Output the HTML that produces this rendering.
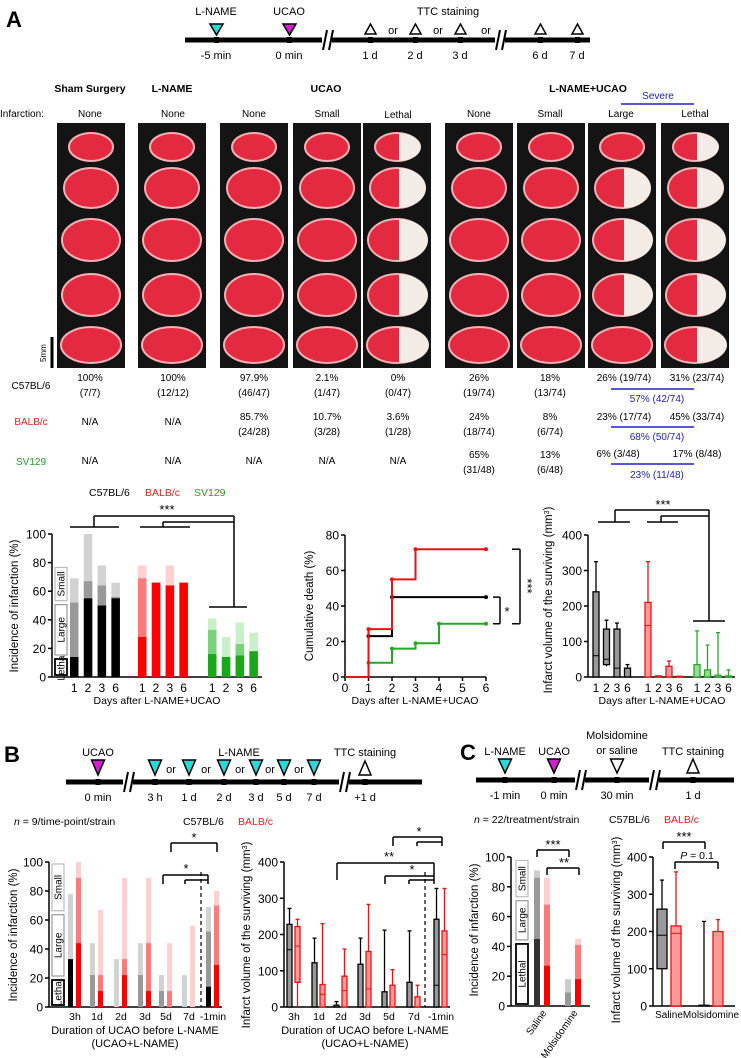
<!DOCTYPE html>
<html><head><meta charset="utf-8">
<style>
html,body{margin:0;padding:0;background:#fff;}
svg{display:block;font-family:"Liberation Sans Narrow","Liberation Sans",sans-serif;}
text{fill:#000;}
</style></head>
<body>
<svg id="fig" xmlns="http://www.w3.org/2000/svg" width="741" height="1058" viewBox="0 0 741 1058">
<!-- Panel A header & timeline -->
<text x="6" y="27" font-size="22" font-weight="bold" font-family="Liberation Sans">A</text>
<g font-size="11" text-anchor="middle">
  <line x1="185" y1="40" x2="590" y2="40" stroke="#000" stroke-width="5"/>
  <rect x="322" y="30" width="10" height="20" fill="#fff"/>
  <line x1="323" y1="50" x2="327" y2="30" stroke="#000" stroke-width="2"/>
  <line x1="329" y1="50" x2="333" y2="30" stroke="#000" stroke-width="2"/>
  <rect x="495" y="30" width="10" height="20" fill="#fff"/>
  <line x1="496" y1="50" x2="500" y2="30" stroke="#000" stroke-width="2"/>
  <line x1="502" y1="50" x2="506" y2="30" stroke="#000" stroke-width="2"/>
  <g fill="#000"><rect x="214" y="37" width="5" height="6"/><rect x="287" y="37" width="5" height="6"/><rect x="368" y="37" width="5" height="6"/><rect x="413" y="37" width="5" height="6"/><rect x="458" y="37" width="5" height="6"/><rect x="538" y="37" width="5" height="6"/><rect x="575" y="37" width="5" height="6"/></g>
  <polygon points="210,24 223,24 216.5,35" fill="#29d8d8" stroke="#000" stroke-width="1.5"/>
  <polygon points="283,24 296,24 289.5,35" fill="#d020d0" stroke="#000" stroke-width="1.5"/>
  <polygon points="370.5,24 365,34 376,34" fill="#fff" stroke="#000" stroke-width="1.5"/>
  <polygon points="415.5,24 410,34 421,34" fill="#fff" stroke="#000" stroke-width="1.5"/>
  <polygon points="460.5,24 455,34 466,34" fill="#fff" stroke="#000" stroke-width="1.5"/>
  <polygon points="540.5,24 535,34 546,34" fill="#fff" stroke="#000" stroke-width="1.5"/>
  <polygon points="577.5,24 572,34 583,34" fill="#fff" stroke="#000" stroke-width="1.5"/>
  <text x="216" y="15">L-NAME</text><text x="289" y="15">UCAO</text><text x="448" y="15">TTC staining</text>
  <text x="393" y="34">or</text><text x="438" y="34">or</text><text x="486" y="34">or</text>
  <text x="216" y="59">-5 min</text><text x="289" y="59">0 min</text><text x="370" y="59">1 d</text><text x="415" y="59">2 d</text><text x="460" y="59">3 d</text><text x="540" y="59">6 d</text><text x="577" y="59">7 d</text>
</g>
<!-- Group headings -->
<g font-size="10.5" font-weight="bold" text-anchor="middle">
  <text x="90" y="92">Sham Surgery</text><text x="172" y="92">L-NAME</text><text x="326" y="92">UCAO</text><text x="588" y="92">L-NAME+UCAO</text>
</g>
<text x="658" y="99" font-size="10" fill="#2020c0" style="fill:#2020c0" text-anchor="middle">Severe</text>
<line x1="621" y1="104" x2="694" y2="104" stroke="#2020c0" stroke-width="1.5"/>
<g font-size="10" text-anchor="middle">
  <text x="22" y="117">Infarction:</text>
  <text x="90" y="117">None</text><text x="173" y="117">None</text><text x="254" y="117">None</text><text x="327" y="117">Small</text><text x="398" y="118">Lethal</text><text x="479" y="117">None</text><text x="550" y="117">Small</text><text x="621" y="117">Large</text><text x="695" y="117">Lethal</text>
</g>
<g id="photos"></g>
<g>
  <line x1="52" y1="337" x2="52" y2="368" stroke="#000" stroke-width="3"/>
  <text x="0" y="0" font-size="8" transform="translate(46,362) rotate(-90)">5mm</text>
</g>
<!-- Table -->
<g font-size="10" text-anchor="middle">
  <text x="31" y="389">C57BL/6</text>
  <text x="31" y="425" style="fill:#e02020">BALB/c</text>
  <text x="31" y="465" style="fill:#20a020">SV129</text>
  <text x="90" y="381">100%</text><text x="90" y="396">(7/7)</text>
  <text x="173" y="381">100%</text><text x="173" y="396">(12/12)</text>
  <text x="254" y="381">97.9%</text><text x="254" y="396">(46/47)</text>
  <text x="327" y="381">2.1%</text><text x="327" y="396">(1/47)</text>
  <text x="398" y="381">0%</text><text x="398" y="396">(0/47)</text>
  <text x="479" y="381">26%</text><text x="479" y="396">(19/74)</text>
  <text x="550" y="381">18%</text><text x="550" y="396">(13/74)</text>
  <text x="624" y="381">26% (19/74)</text><text x="697" y="381">31% (23/74)</text>
  <text x="90" y="425">N/A</text><text x="173" y="425">N/A</text>
  <text x="254" y="420">85.7%</text><text x="254" y="435">(24/28)</text>
  <text x="327" y="420">10.7%</text><text x="327" y="435">(3/28)</text>
  <text x="398" y="420">3.6%</text><text x="398" y="435">(1/28)</text>
  <text x="479" y="420">24%</text><text x="479" y="435">(18/74)</text>
  <text x="550" y="420">8%</text><text x="550" y="435">(6/74)</text>
  <text x="624" y="420">23% (17/74)</text><text x="697" y="420">45% (33/74)</text>
  <text x="90" y="464">N/A</text><text x="173" y="464">N/A</text><text x="254" y="464">N/A</text><text x="327" y="464">N/A</text><text x="398" y="464">N/A</text>
  <text x="479" y="458">65%</text><text x="479" y="473">(31/48)</text>
  <text x="550" y="458">13%</text><text x="550" y="473">(6/48)</text>
  <text x="618" y="457">6% (3/48)</text><text x="697" y="457">17% (8/48)</text>
  <g style="fill:#2020c0">
    <text x="657" y="402" style="fill:#2020c0">57% (42/74)</text>
    <text x="657" y="440" style="fill:#2020c0">68% (50/74)</text>
    <text x="657" y="478" style="fill:#2020c0">23% (11/48)</text>
  </g>
  <line x1="611" y1="389" x2="694" y2="389" stroke="#2020c0" stroke-width="1.5"/>
  <line x1="611" y1="427" x2="694" y2="427" stroke="#2020c0" stroke-width="1.5"/>
  <line x1="611" y1="464" x2="694" y2="464" stroke="#2020c0" stroke-width="1.5"/>
</g>
<g font-size="10.5">
  <text x="89" y="496">C57BL/6</text><text x="145" y="496" style="fill:#e02020">BALB/c</text><text x="194" y="496" style="fill:#20a020">SV129</text>
</g>
<!-- Panel B/C timelines -->
<text x="4" y="762" font-size="22" font-weight="bold" font-family="Liberation Sans">B</text>
<g font-size="11" text-anchor="middle">
  <line x1="66" y1="782" x2="422" y2="782" stroke="#000" stroke-width="5"/>
  <rect x="123" y="772" width="10" height="20" fill="#fff"/>
  <line x1="124" y1="792" x2="128" y2="772" stroke="#000" stroke-width="2"/><line x1="130" y1="792" x2="134" y2="772" stroke="#000" stroke-width="2"/>
  <rect x="339" y="772" width="10" height="20" fill="#fff"/>
  <line x1="340" y1="792" x2="344" y2="772" stroke="#000" stroke-width="2"/><line x1="346" y1="792" x2="350" y2="772" stroke="#000" stroke-width="2"/>
  <g fill="#000"><rect x="95.5" y="779" width="5" height="6"/><rect x="152.5" y="779" width="5" height="6"/><rect x="186.5" y="779" width="5" height="6"/><rect x="221.5" y="779" width="5" height="6"/><rect x="253.5" y="779" width="5" height="6"/><rect x="281.5" y="779" width="5" height="6"/><rect x="311.5" y="779" width="5" height="6"/><rect x="362.5" y="779" width="5" height="6"/></g>
  <polygon points="91.5,760 104.5,760 98,775" fill="#d020d0" stroke="#000" stroke-width="1.5"/>
  <polygon points="148.5,760 161.5,760 155,775" fill="#29d8d8" stroke="#000" stroke-width="1.5"/>
  <polygon points="182.5,760 195.5,760 189,775" fill="#29d8d8" stroke="#000" stroke-width="1.5"/>
  <polygon points="217.5,760 230.5,760 224,775" fill="#29d8d8" stroke="#000" stroke-width="1.5"/>
  <polygon points="249.5,760 262.5,760 256,775" fill="#29d8d8" stroke="#000" stroke-width="1.5"/>
  <polygon points="277.5,760 290.5,760 284,775" fill="#29d8d8" stroke="#000" stroke-width="1.5"/>
  <polygon points="307.5,760 320.5,760 314,775" fill="#29d8d8" stroke="#000" stroke-width="1.5"/>
  <polygon points="365,761 359,775 371,775" fill="#fff" stroke="#000" stroke-width="1.5"/>
  <text x="98" y="756">UCAO</text><text x="239" y="756">L-NAME</text><text x="365" y="756">TTC staining</text>
  <text x="171" y="773">or</text><text x="206" y="773">or</text><text x="240" y="773">or</text><text x="270" y="773">or</text><text x="299" y="773">or</text>
  <text x="98" y="801">0 min</text><text x="155" y="801">3 h</text><text x="189" y="801">1 d</text><text x="224" y="801">2 d</text><text x="256" y="801">3 d</text><text x="284" y="801">5 d</text><text x="314" y="801">7 d</text><text x="365" y="801">+1 d</text>
</g>
<text x="460" y="760" font-size="22" font-weight="bold" font-family="Liberation Sans">C</text>
<g font-size="11" text-anchor="middle">
  <line x1="476" y1="780" x2="734" y2="780" stroke="#000" stroke-width="5"/>
  <rect x="575" y="770" width="10" height="20" fill="#fff"/>
  <line x1="576" y1="790" x2="580" y2="770" stroke="#000" stroke-width="2"/><line x1="582" y1="790" x2="586" y2="770" stroke="#000" stroke-width="2"/>
  <rect x="649" y="770" width="10" height="20" fill="#fff"/>
  <line x1="650" y1="790" x2="654" y2="770" stroke="#000" stroke-width="2"/><line x1="656" y1="790" x2="660" y2="770" stroke="#000" stroke-width="2"/>
  <g fill="#000"><rect x="502.5" y="777" width="5" height="6"/><rect x="551.5" y="777" width="5" height="6"/><rect x="614.5" y="777" width="5" height="6"/><rect x="690.5" y="777" width="5" height="6"/></g>
  <polygon points="498.5,759 511.5,759 505,773" fill="#29d8d8" stroke="#000" stroke-width="1.5"/>
  <polygon points="547.5,759 560.5,759 554,773" fill="#d020d0" stroke="#000" stroke-width="1.5"/>
  <polygon points="610.5,759 623.5,759 617,773" fill="#fff" stroke="#000" stroke-width="1.5"/>
  <polygon points="693,759 687,773 699,773" fill="#fff" stroke="#000" stroke-width="1.5"/>
  <text x="505" y="755">L-NAME</text><text x="554" y="755">UCAO</text>
  <text x="617" y="739">Molsidomine</text><text x="617" y="754">or saline</text>
  <text x="693" y="755">TTC staining</text>
  <text x="505" y="799">-1 min</text><text x="554" y="799">0 min</text><text x="617" y="799">30 min</text><text x="693" y="799">1 d</text>
</g>
<g font-size="10.5">
  <text x="14" y="825"><tspan font-style="italic">n</tspan> = 9/time-point/strain</text>
  <text x="183" y="825">C57BL/6</text><text x="238" y="825" style="fill:#e02020">BALB/c</text>
  <text x="474" y="823"><tspan font-style="italic">n</tspan> = 22/treatment/strain</text>
  <text x="609" y="823">C57BL/6</text><text x="664" y="823" style="fill:#e02020">BALB/c</text>
</g>
<g id="charts"></g>
</svg>
<script>
// ---------- Chart data ----------
const a1Days = ['1','2','3','6'];
const a1C57Lethal = [14, 55, 50, 55];
const a1C57Large = [52, 67, 64, 56];
const a1C57Total = [69, 100, 78, 66];
const a1BalbLethal = [28, 66, 64, 66];
const a1BalbLarge = [69, 66, 64, 66];
const a1BalbTotal = [78, 66, 78, 66];
const a1SvLethal = [16, 14, 15, 18];
const a1SvLarge = [33, 14, 23, 18];
const a1SvTotal = [41, 28, 38, 31];
const a1Ticks = [0, 20, 40, 60, 80, 100];

const a2Days = [0, 1, 2, 3, 4, 5, 6];
const a2C57 = [0, 23, 45, 45, 45, 45, 45];
const a2Balb = [0, 27, 55, 72, 72, 72, 72];
const a2Sv = [0, 8, 16, 19, 30, 30, 30];
const a2Ticks = [0, 20, 40, 60, 80];

const a3C57 = [[0,0,60,240,325],[30,35,50,135,160],[0,0,25,135,152],[0,0,0,25,35]];
const a3Balb = [[0,0,145,210,325],[0,0,0,3,3],[0,0,0,30,45],[0,0,0,2,2]];
const a3Sv = [[0,0,0,35,130],[0,0,0,20,90],[0,0,0,5,125],[0,0,0,3,20]];
const a3Ticks = [0, 100, 200, 300, 400];

const bTimes = ['3h','1d','2d','3d','5d','7d','-1min'];
const b1C57Lethal = [33, 0, 0, 0, 0, 0, 14];
const b1C57Large = [33, 22, 0, 22, 11, 0, 52];
const b1C57Total = [78, 44, 33, 44, 22, 22, 69];
const b1BalbLethal = [44, 11, 22, 11, 0, 0, 29];
const b1BalbLarge = [89, 22, 33, 44, 11, 0, 70];
const b1BalbTotal = [100, 67, 89, 89, 44, 56, 80];
const b2C57 = [[0,0,158,228,272],[0,0,0,122,190],[0,0,0,5,15],[0,0,0,118,190],[0,0,0,42,212],[0,0,0,68,210],[0,0,60,242,327]];
const b2Balb = [[0,68,168,222,242],[0,0,35,62,230],[0,0,45,85,160],[0,0,50,153,283],[0,0,0,60,103],[0,0,0,28,60],[0,0,145,210,327]];

const cGroups = ['Saline','Molsidomine'];
const c1C57Lethal = [45, 0];
const c1C57Large = [86, 9];
const c1C57Total = [91, 18];
const c1BalbLethal = [27, 18];
const c1BalbLarge = [68, 41];
const c1BalbTotal = [86, 45];
const c2C57 = [[0,100,190,260,338],[0,0,0,2,227]];
const c2Balb = [[0,0,195,215,360],[0,0,0,200,232]];

const NS = 'http://www.w3.org/2000/svg';
const root = document.getElementById('charts');
function mk(tag, attrs, parent) {
  const e = document.createElementNS(NS, tag);
  for (const k in attrs) e.setAttribute(k, attrs[k]);
  (parent || root).appendChild(e);
  return e;
}
function lin(d0, d1, r0, r1) { return v => r0 + (v - d0) * (r1 - r0) / (d1 - d0); }

// ---------- photos ----------
const photos = document.getElementById('photos');
const photoX = [57, 138, 220, 293, 363, 445, 517, 588, 661];
const infarctCols = {4: [1,1,1,1,1], 7: [0,1,1,1,0], 8: [1,1,1,1,1]};
const slabY = [147, 188, 240, 295, 345];
const slabRx = [22, 27, 29, 29, 30];
const slabRy = [14, 20, 21, 21, 18];
photoX.forEach((px, ci) => {
  const bg = mk('rect', {x: px, y: 123, width: 68, height: 245, fill: '#141414'}, photos);
  
  
  slabY.forEach((sy, ri) => {
    const cx = px + 34;
    const rx = slabRx[ri], ry = slabRy[ri];
    const s = mk('ellipse', {cx: cx, cy: sy, rx: rx, ry: ry, fill: '#e42a40', stroke: '#f5b0b5', 'stroke-width': 2}, photos);
    
    
    const inf = infarctCols[ci];
    if (inf && inf[ri]) {
      const w = mk('path', {d: `M${cx+2},${sy-ry} A${rx},${ry} 0 0 1 ${cx+2},${sy+ry} Z`, fill: '#f3ece6'}, photos);
      
      
    }
  });
});

// ---------- helpers ----------
function yAxis(x, y, ticks, fs, name) {
  const a = mk('line', {x1: x, y1: y(ticks[0]), x2: x, y2: y(ticks[ticks.length-1]), stroke: '#000', 'stroke-width': 1.5});
  
  
  ticks.forEach(t => {
    const tk = mk('line', {x1: x-4, y1: y(t), x2: x, y2: y(t), stroke: '#000', 'stroke-width': 1.5});
    
    
    const tl = mk('text', {x: x-6, y: y(t)+4.5, 'font-size': fs, 'text-anchor': 'end', 'font-family': 'Liberation Sans'});
    tl.textContent = t;
    
    
  });
}
function vTitle(x, y, txt, fs) {
  const t = mk('text', {x: 0, y: 0, 'font-size': fs, 'text-anchor': 'middle', transform: `translate(${x},${y}) rotate(-90)`});
  t.innerHTML = txt;
  
  
}
function txt(x, y, s, fs, anchor, name) {
  const t = mk('text', {x: x, y: y, 'font-size': fs, 'text-anchor': anchor || 'middle'});
  t.innerHTML = s;
  
  
  return t;
}
function hline(x1, y1, x2, y2, name, extra) {
  const l = mk('line', Object.assign({x1: x1, y1: y1, x2: x2, y2: y2, stroke: '#000', 'stroke-width': 1.5}, extra || {}));
  
  
}
function stack(x, w, y, lethal, large, total, cols) {
  const r1 = mk('rect', {x: x, y: y(total), width: w, height: y(0)-y(total), fill: cols[2]});
  
  
  const r2 = mk('rect', {x: x, y: y(large), width: w, height: y(0)-y(large), fill: cols[1]});
  
  
  const r3 = mk('rect', {x: x, y: y(lethal), width: w, height: y(0)-y(lethal), fill: cols[0]});
  
  
}
function box(x, w, y, d, fill, stroke) {
  const cx = x + w/2;
  const wh = mk('line', {x1: cx, y1: y(d[4]), x2: cx, y2: y(d[0]), stroke: stroke, 'stroke-width': 1.3});
  
  
  const cap = mk('line', {x1: cx-2, y1: y(d[4]), x2: cx+2, y2: y(d[4]), stroke: stroke, 'stroke-width': 1.3});
  
  
  const b = mk('rect', {x: x, y: y(d[3]), width: w, height: Math.max(0.5, y(d[1])-y(d[3])), fill: fill, stroke: stroke, 'stroke-width': 1.3});
  
  
  const m = mk('line', {x1: x, y1: y(d[2]), x2: x+w, y2: y(d[2]), stroke: stroke, 'stroke-width': 1});
  
  
}
function legendBoxes(x, y, lethal, large, total) {
  const items = [['Lethal', 0, lethal, '#000', 1.8], ['Large', lethal, large, '#999', 1.2], ['Small', large, total, '#bbb', 1.2]];
  items.forEach(it => {
    const y0 = y(it[1]) - 2, y1 = y(it[2]) + 2;
    const r = mk('rect', {x: x-6, y: y1, width: 12, height: y0-y1, fill: '#fff', stroke: it[3], 'stroke-width': it[4]});
    
    
    const t = mk('text', {x: 0, y: 0, 'font-size': 10, 'text-anchor': 'middle', transform: `translate(${x+3.5},${(y0+y1)/2}) rotate(-90)`});
    t.textContent = it[0];
    
    
  });
}
const gCols = ['#000', '#999', '#d2d2d2'];
const rCols = ['#ff0000', '#ff7a7a', '#ffd0d0'];
const vCols = ['#1aa81a', '#7ad27a', '#c9f0c9'];

// ---------- A1 ----------
const yA1 = lin(0, 100, 677, 534);
yAxis(52, yA1, a1Ticks, 12, 'a1-y-axis');
hline(52, 677, 262, 677, 'a1-x-axis');
vTitle(18, 606, 'Incidence of infarction (%)', 11.5);
[[70, a1C57Lethal, a1C57Large, a1C57Total, gCols], [138, a1BalbLethal, a1BalbLarge, a1BalbTotal, rCols], [208, a1SvLethal, a1SvLarge, a1SvTotal, vCols]].forEach(g => {
  a1Days.forEach((d, i) => {
    const x = g[0] + i * 13.8;
    stack(x, 8.5, yA1, g[1][i], g[2][i], g[3][i], g[4]);
    txt(x + 4.2, 692, d, 12, 'middle', 'x-tick-label');
  });
});
legendBoxes(61, yA1, 14, 52, 78);
txt(157, 704, 'Days after L-NAME+UCAO', 10.5, 'middle', 'a1-x-axis-title');
hline(70, 527, 119, 527, 'a1-bracket');
hline(94, 527, 94, 516, 'a1-bracket');
hline(94, 516, 234, 516, 'a1-bracket');
hline(140, 527, 190, 527, 'a1-bracket');
hline(163, 527, 163, 522, 'a1-bracket');
hline(163, 522, 234, 522, 'a1-bracket');
hline(234, 516, 234, 607, 'a1-bracket');
hline(209, 607, 247, 607, 'a1-bracket');
txt(167, 514, '***', 13, 'middle', 'a1-significance');

// ---------- A2 ----------
const xA2 = lin(0, 6, 345, 486);
const yA2 = lin(0, 80, 677, 535);
yAxis(345, yA2, a2Ticks, 12, 'a2-y-axis');
hline(345, 677, 486, 677, 'a2-x-axis');
a2Days.forEach(d => {
  hline(xA2(d), 677, xA2(d), 681, 'x-tick');
  txt(xA2(d), 692, d, 12, 'middle', 'x-tick-label');
});
vTitle(313, 606, 'Cumulative death (%)', 11.5);
txt(415, 704, 'Days after L-NAME+UCAO', 10.5, 'middle', 'a2-x-axis-title');
[[a2C57, '#000', 'line-c57'], [a2Sv, '#22aa22', 'line-sv129'], [a2Balb, '#ee1111', 'line-balbc']].forEach(s => {
  let d = `M${xA2(a2Days[0])},${yA2(s[0][0])}`;
  for (let i = 1; i < a2Days.length; i++) d += ` H${xA2(a2Days[i])} V${yA2(s[0][i])}`;
  const p = mk('path', {d: d, fill: 'none', stroke: s[1], 'stroke-width': 2});
  
  
  for (let i = 1; i < a2Days.length; i++) {
    if (s[0][i] !== s[0][i-1] || i === a2Days.length - 1) {
      const c = mk('circle', {cx: xA2(a2Days[i]), cy: yA2(s[0][i]), r: 2, fill: s[1]});
      
      
    }
  }
});
hline(493, yA2(45), 500, yA2(45), 'a2-bracket');
hline(500, yA2(45), 500, yA2(30), 'a2-bracket');
hline(493, yA2(30), 500, yA2(30), 'a2-bracket');
hline(512, yA2(72), 520, yA2(72), 'a2-bracket');
hline(520, yA2(72), 520, yA2(30), 'a2-bracket');
hline(512, yA2(30), 520, yA2(30), 'a2-bracket');
txt(507, 616, '*', 13, 'middle', 'a2-significance');
{ const t = mk('text', {x: 0, y: 0, 'font-size': 13, 'text-anchor': 'middle', transform: 'translate(523,586) rotate(90)'}); t.textContent = '***';
  
   }

// ---------- A3 ----------
const yA3 = lin(0, 400, 677, 535);
yAxis(588, yA3, a3Ticks, 12, 'a3-y-axis');
hline(588, 677, 735, 677, 'a3-x-axis');
vTitle(552, 600, 'Infarct volume of the surviving (mm<tspan baseline-shift="super" font-size="7">3</tspan>)', 11.5);
[[593, a3C57, '#999', '#000'], [645, a3Balb, '#ff9a9a', '#ee1111'], [694, a3Sv, '#9ada9a', '#22aa22']].forEach(g => {
  g[1].forEach((d, i) => {
    const x = g[0] + i * 10.5;
    box(x, 6, yA3, d, g[2], g[3]);
    txt(x + 3, 692, a1Days[i], 12, 'middle', 'x-tick-label');
  });
});
txt(662, 704, 'Days after L-NAME+UCAO', 10.5, 'middle', 'a3-x-axis-title');
hline(598, 522, 630, 522, 'a3-bracket');
hline(615, 522, 615, 510, 'a3-bracket');
hline(615, 510, 709, 510, 'a3-bracket');
hline(647, 522, 678, 522, 'a3-bracket');
hline(661, 522, 661, 516, 'a3-bracket');
hline(661, 516, 709, 516, 'a3-bracket');
hline(709, 510, 709, 621, 'a3-bracket');
hline(693, 621, 725, 621, 'a3-bracket');
txt(663, 509, '***', 13, 'middle', 'a3-significance');

// ---------- B1 ----------
const yB1 = lin(0, 100, 1007, 862);
const xB1 = [75, 97, 121, 145, 166, 189, 213];
yAxis(49, yB1, a1Ticks, 12, 'b1-y-axis');
hline(49, 1007, 222, 1007, 'b1-x-axis');
vTitle(17, 935, 'Incidence of infarction (%)', 11.5);
bTimes.forEach((t, i) => {
  stack(xB1[i]-7, 5, yB1, b1C57Lethal[i], b1C57Large[i], b1C57Total[i], gCols);
  stack(xB1[i]+1, 5, yB1, b1BalbLethal[i], b1BalbLarge[i], b1BalbTotal[i], rCols);
  txt(xB1[i], 1020, t, 10.5, 'middle', 'x-tick-label');
});
legendBoxes(58, yB1, 20, 65, 100);
hline(201, 872, 201, 1007, 'b1-dashed-line', {'stroke-dasharray': '4,3', 'stroke-width': 1.2});
txt(135, 1034, 'Duration of UCAO before L-NAME', 11, 'middle', 'b1-x-axis-title');
txt(135, 1047, '(UCAO+L-NAME)', 11, 'middle', 'b1-x-axis-title-2');
hline(171, 852, 171, 843, 'b1-bracket'); hline(171, 843, 217, 843, 'b1-bracket'); hline(217, 843, 217, 852, 'b1-bracket');
txt(194, 842, '*', 13, 'middle', 'b1-significance');
hline(163, 884, 163, 875, 'b1-bracket'); hline(163, 875, 208, 875, 'b1-bracket'); hline(208, 875, 208, 884, 'b1-bracket');
hline(185, 884, 185, 880, 'b1-bracket'); hline(185, 880, 208, 880, 'b1-bracket');
txt(186, 873, '*', 13, 'middle', 'b1-significance-2');

// ---------- B2 ----------
const yB2 = lin(0, 400, 1007, 862);
const xB2 = [294, 319, 341, 365, 389, 414, 441];
yAxis(284, yB2, a3Ticks, 12, 'b2-y-axis');
hline(284, 1007, 450, 1007, 'b2-x-axis');
vTitle(250, 935, 'Infarct volume of the surviving (mm<tspan baseline-shift="super" font-size="7">3</tspan>)', 11.5);
bTimes.forEach((t, i) => {
  box(xB2[i]-7, 5, yB2, b2C57[i], '#999', '#000');
  box(xB2[i]+1, 5, yB2, b2Balb[i], '#ff9a9a', '#ee1111');
  txt(xB2[i], 1020, t, 10.5, 'middle', 'x-tick-label');
});
hline(425, 872, 425, 1007, 'b2-dashed-line', {'stroke-dasharray': '4,3', 'stroke-width': 1.2});
txt(365, 1034, 'Duration of UCAO before L-NAME', 11, 'middle', 'b2-x-axis-title');
txt(365, 1047, '(UCAO+L-NAME)', 11, 'middle', 'b2-x-axis-title-2');
hline(393, 846, 393, 837, 'b2-bracket'); hline(393, 837, 442, 837, 'b2-bracket'); hline(442, 837, 442, 846, 'b2-bracket');
hline(417, 846, 417, 842, 'b2-bracket'); hline(417, 842, 442, 842, 'b2-bracket');
txt(419, 836, '*', 13, 'middle', 'b2-significance');
hline(337, 880, 337, 863, 'b2-bracket'); hline(337, 863, 434, 863, 'b2-bracket');
txt(389, 861, '**', 13, 'middle', 'b2-significance-2');
hline(385, 884, 385, 876, 'b2-bracket'); hline(385, 876, 434, 876, 'b2-bracket'); hline(434, 863, 434, 884, 'b2-bracket');
hline(409, 884, 409, 880, 'b2-bracket'); hline(409, 880, 434, 880, 'b2-bracket');
txt(412, 874, '*', 13, 'middle', 'b2-significance-3');

// ---------- C1 ----------
const yC1 = lin(0, 100, 1006, 857);
const xC1 = [541, 572];
yAxis(511, yC1, a1Ticks, 12, 'c1-y-axis');
hline(511, 1006, 590, 1006, 'c1-x-axis');
vTitle(478, 930, 'Incidence of infarction (%)', 11.5);
cGroups.forEach((g, i) => {
  stack(xC1[i]-7, 6, yC1, c1C57Lethal[i], c1C57Large[i], c1C57Total[i], ['#333', '#999', '#ccc']);
  stack(xC1[i]+3, 6, yC1, c1BalbLethal[i], c1BalbLarge[i], c1BalbTotal[i], rCols);
  const t = mk('text', {x: 0, y: 0, 'font-size': 10, 'text-anchor': 'end', transform: `translate(${xC1[i]+6},1013) rotate(-55)`});
  t.textContent = g;
  
  
});
legendBoxes(522, yC1, 43, 72, 99);
hline(537, 857, 537, 850, 'c1-bracket'); hline(537, 850, 569, 850, 'c1-bracket'); hline(569, 850, 569, 857, 'c1-bracket');
txt(553, 849, '***', 13, 'middle', 'c1-significance');
hline(547, 875, 547, 868, 'c1-bracket'); hline(547, 868, 579, 868, 'c1-bracket'); hline(579, 868, 579, 875, 'c1-bracket');
txt(564, 867, '**', 13, 'middle', 'c1-significance-2');

// ---------- C2 ----------
const yC2 = lin(0, 400, 1006, 857);
const xC2 = [669, 711];
yAxis(653, yC2, a3Ticks, 12, 'c2-y-axis');
hline(653, 1006, 735, 1006, 'c2-x-axis');
vTitle(620, 930, 'Infarct volume of the surviving (mm<tspan baseline-shift="super" font-size="7">3</tspan>)', 11.5);
cGroups.forEach((g, i) => {
  box(xC2[i]-12, 10, yC2, c2C57[i], '#999', '#000');
  box(xC2[i]+2, 10, yC2, c2Balb[i], '#ff9a9a', '#ee1111');
  txt(xC2[i], 1018, g, 10, 'middle', 'x-tick-label');
});
hline(663, 849, 663, 842, 'c2-bracket'); hline(663, 842, 705, 842, 'c2-bracket'); hline(705, 842, 705, 849, 'c2-bracket');
txt(684, 841, '***', 13, 'middle', 'c2-significance');
hline(675, 869, 675, 862, 'c2-bracket'); hline(675, 862, 718, 862, 'c2-bracket'); hline(718, 862, 718, 869, 'c2-bracket');
txt(697, 859, '<tspan font-style="italic">P</tspan> = 0.1', 10.5, 'middle', 'c2-p-value');
</script>
</body></html>
